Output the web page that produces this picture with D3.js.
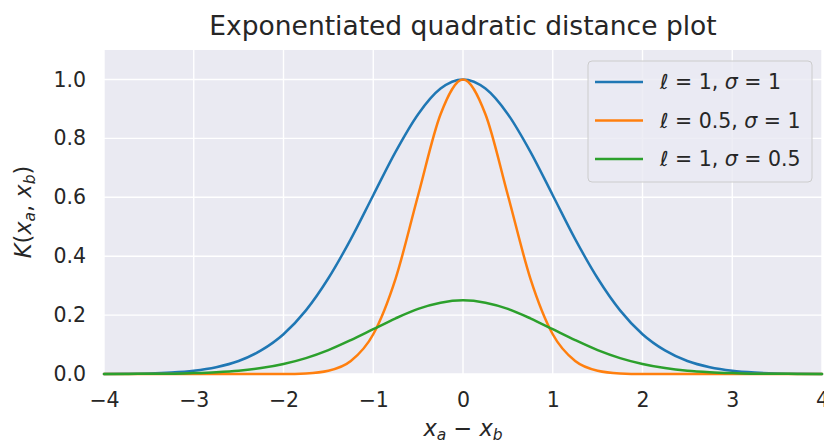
<!DOCTYPE html>
<html>
<head>
<meta charset="utf-8">
<script src="https://cdn.jsdelivr.net/npm/d3@7"></script>
<style>
  body { margin: 0; background: #fff; }
  text { font-family: "DejaVu Sans", sans-serif; fill: #262626; }
</style>
</head>
<body>
<svg id="chart"></svg>
<script>
// values
var xs = [-4, -3.75, -3.5, -3.25, -3, -2.75, -2.5, -2.25, -2, -1.75, -1.5, -1.25, -1, -0.75, -0.5, -0.25,
          0, 0.25, 0.5, 0.75, 1, 1.25, 1.5, 1.75, 2, 2.25, 2.5, 2.75, 3, 3.25, 3.5, 3.75, 4];
var blueVals = [0.000, 0.001, 0.002, 0.005, 0.011, 0.023, 0.044, 0.080, 0.135, 0.216, 0.325, 0.458, 0.607, 0.755, 0.882, 0.969,
                1.000, 0.969, 0.882, 0.755, 0.607, 0.458, 0.325, 0.216, 0.135, 0.080, 0.044, 0.023, 0.011, 0.005, 0.002, 0.001, 0.000];
var orangeVals = [0, 0, 0, 0, 0, 0, 0, 0, 0.000, 0.002, 0.011, 0.044, 0.135, 0.325, 0.607, 0.882,
                  1.000, 0.882, 0.607, 0.325, 0.135, 0.044, 0.011, 0.002, 0.000, 0, 0, 0, 0, 0, 0, 0, 0];
var greenVals = [0.000, 0.000, 0.001, 0.001, 0.003, 0.006, 0.011, 0.020, 0.034, 0.054, 0.081, 0.115, 0.152, 0.189, 0.221, 0.242,
                 0.250, 0.242, 0.221, 0.189, 0.152, 0.115, 0.081, 0.054, 0.034, 0.020, 0.011, 0.006, 0.003, 0.001, 0.001, 0.000, 0.000];
var xTicks = [-4, -3, -2, -1, 0, 1, 2, 3, 4];
var yTicks = [0, 0.2, 0.4, 0.6, 0.8, 1.0];
var seriesNames = [["1", "1"], ["0.5", "1"], ["1", "0.5"]];
var colors = ["#1f77b4", "#ff7f0e", "#2ca02c"];

var width = 824, height = 444;
var margin = {left: 104, right: 2, top: 50, bottom: 70};

var svg = d3.select("#chart").attr("width", width).attr("height", height);

var x = d3.scaleLinear().domain([-4, 4]).range([margin.left, width - margin.right]);
var y = d3.scaleLinear().domain([0, 1.1]).range([height - margin.bottom, margin.top]);

// background
svg.append("rect")
  .attr("x", x(-4)).attr("y", y(1.1))
  .attr("width", x(4) - x(-4)).attr("height", y(0) - y(1.1))
  .attr("fill", "#eaeaf2");

// grid
svg.append("g").selectAll("line").data(xTicks).enter().append("line")
  .attr("x1", d => x(d)).attr("x2", d => x(d))
  .attr("y1", y(0)).attr("y2", y(1.1))
  .attr("stroke", "#fff").attr("stroke-width", 1.4);
svg.append("g").selectAll("line").data(yTicks).enter().append("line")
  .attr("x1", x(-4)).attr("x2", x(4))
  .attr("y1", d => y(d)).attr("y2", d => y(d))
  .attr("stroke", "#fff").attr("stroke-width", 1.4);

// axes
var xAxis = svg.append("g").attr("transform", "translate(0," + y(0) + ")")
  .call(d3.axisBottom(x).tickValues(xTicks).tickSize(0).tickPadding(18).tickFormat(d3.format("d")));
var yAxis = svg.append("g").attr("transform", "translate(" + x(-4) + ",0)")
  .call(d3.axisLeft(y).tickValues(yTicks).tickSize(0).tickPadding(18).tickFormat(d3.format(".1f")));
[xAxis, yAxis].forEach(function(a) {
  a.select(".domain").remove();
  a.selectAll("text").attr("font-size", 20.5).attr("font-family", "DejaVu Sans").attr("fill", "#262626");
});

// lines
var line = d3.line()
  .x((d, i) => x(xs[i]))
  .y(d => y(d))
  .curve(d3.curveMonotoneX);
[blueVals, orangeVals, greenVals].forEach(function(vals, i) {
  svg.append("path")
    .attr("d", line(vals))
    .attr("fill", "none")
    .attr("stroke", colors[i])
    .attr("stroke-width", 2.5)
    .attr("stroke-linecap", "round");
});

// title
svg.append("text")
  .attr("x", x(0)).attr("y", 35)
  .attr("text-anchor", "middle")
  .attr("font-size", 26.5)
  .text("Exponentiated quadratic distance plot");

// x label: x_a − x_b
var xl = svg.append("text").attr("x", x(0)).attr("y", 436).attr("text-anchor", "middle").attr("font-size", 22.5);
xl.append("tspan").attr("font-style", "italic").text("x");
xl.append("tspan").attr("font-style", "italic").attr("font-size", 15.5).attr("dy", 4).text("a");
xl.append("tspan").attr("dy", -4).text(" \u2212 ");
xl.append("tspan").attr("font-style", "italic").text("x");
xl.append("tspan").attr("font-style", "italic").attr("font-size", 15.5).attr("dy", 4).text("b");

// y label: K(x_a, x_b)
var yl = svg.append("text")
  .attr("transform", "translate(31,212) rotate(-90)")
  .attr("text-anchor", "middle").attr("font-size", 22.5);
yl.append("tspan").attr("font-style", "italic").text("K");
yl.append("tspan").text("(");
yl.append("tspan").attr("font-style", "italic").text("x");
yl.append("tspan").attr("font-style", "italic").attr("font-size", 15.5).attr("dy", 4).text("a");
yl.append("tspan").attr("dy", -4).text(", ");
yl.append("tspan").attr("font-style", "italic").text("x");
yl.append("tspan").attr("font-style", "italic").attr("font-size", 15.5).attr("dy", 4).text("b");
yl.append("tspan").attr("dy", -4).text(")");

// legend
var lg = svg.append("g").attr("transform", "translate(588,61)");
lg.append("rect")
  .attr("width", 224).attr("height", 121).attr("rx", 4)
  .attr("fill", "#eaeaf2").attr("fill-opacity", 0.8)
  .attr("stroke", "#cccccc").attr("stroke-width", 1);
seriesNames.forEach(function(p, i) {
  var row = lg.append("g").attr("transform", "translate(0," + (21 + i * 38.5) + ")");
  row.append("line").attr("x1", 7).attr("x2", 55)
    .attr("stroke", colors[i]).attr("stroke-width", 2.5);
  var t = row.append("text").attr("x", 72).attr("y", 7).attr("font-size", 20.5);
  t.append("tspan").attr("font-style", "italic").text("\u2113");
  t.append("tspan").text(" = " + p[0] + ", ");
  t.append("tspan").attr("font-style", "italic").text("\u03c3");
  t.append("tspan").text(" = " + p[1]);
});
</script>
</body>
</html>
